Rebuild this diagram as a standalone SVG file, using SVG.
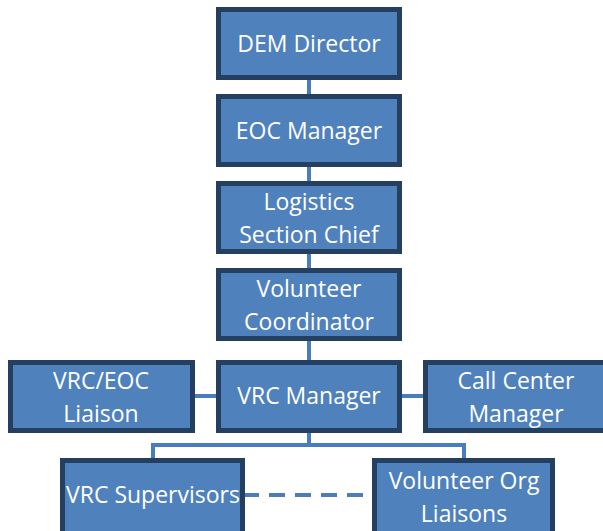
<svg xmlns="http://www.w3.org/2000/svg" width="603" height="531" viewBox="0 0 603 531">
<style>
.box{fill:#4f81bd;stroke:#243f60;stroke-width:5}
.t{fill:#ffffff;font-family:"Open Sans","Noto Sans","Liberation Sans",sans-serif;font-size:23px;text-anchor:middle}
.c{stroke:#4a7ebb;stroke-width:4;fill:none}
</style>
<rect width="603" height="531" fill="#ffffff"/>
<g id="connectors">
<line class="c" x1="309" y1="78" x2="309" y2="97"/>
<line class="c" x1="309" y1="165" x2="309" y2="184"/>
<line class="c" x1="309" y1="251" x2="309" y2="270"/>
<line class="c" x1="309" y1="338" x2="309" y2="363"/>
<line class="c" x1="193" y1="396" x2="219" y2="396"/>
<line class="c" x1="399" y1="396" x2="426" y2="396"/>
<polyline class="c" points="153,461 153,445 464,445 464,461"/>
<line class="c" x1="309" y1="430" x2="309" y2="445"/>
<line class="c" x1="243" y1="495" x2="374" y2="495" stroke-dasharray="16,10"/>
</g>
<g id="dem-director">
<rect class="box" x="218.5" y="9.5" width="181" height="68"/>
<text class="t" x="309" y="52">DEM Director</text>
</g>
<g id="eoc-manager">
<rect class="box" x="218.5" y="96.5" width="181" height="68"/>
<text class="t" x="309" y="139">EOC Manager</text>
</g>
<g id="logistics-section-chief">
<rect class="box" x="218.5" y="183.5" width="181" height="68"/>
<text class="t" x="309" y="210">Logistics</text>
<text class="t" x="309" y="243">Section Chief</text>
</g>
<g id="volunteer-coordinator">
<rect class="box" x="218.5" y="270.5" width="181" height="68"/>
<text class="t" x="309" y="297">Volunteer</text>
<text class="t" x="309" y="330">Coordinator</text>
</g>
<g id="vrc-eoc-liaison">
<rect class="box" x="10.5" y="362.5" width="182" height="68"/>
<text class="t" x="101" y="389">VRC/EOC</text>
<text class="t" x="101" y="422">Liaison</text>
</g>
<g id="vrc-manager">
<rect class="box" x="218.5" y="362.5" width="181" height="68"/>
<text class="t" x="309" y="404">VRC Manager</text>
</g>
<g id="call-center-manager">
<rect class="box" x="425.5" y="362.5" width="190" height="68"/>
<text class="t" x="516" y="389">Call Center</text>
<text class="t" x="516" y="422">Manager</text>
</g>
<g id="vrc-supervisors">
<rect class="box" x="62.5" y="460.5" width="180" height="75"/>
<text class="t" x="153" y="503">VRC Supervisors</text>
</g>
<g id="volunteer-org-liaisons">
<rect class="box" x="374.5" y="460.5" width="178" height="75"/>
<text class="t" x="464" y="489">Volunteer Org</text>
<text class="t" x="464" y="522">Liaisons</text>
</g>
</svg>
